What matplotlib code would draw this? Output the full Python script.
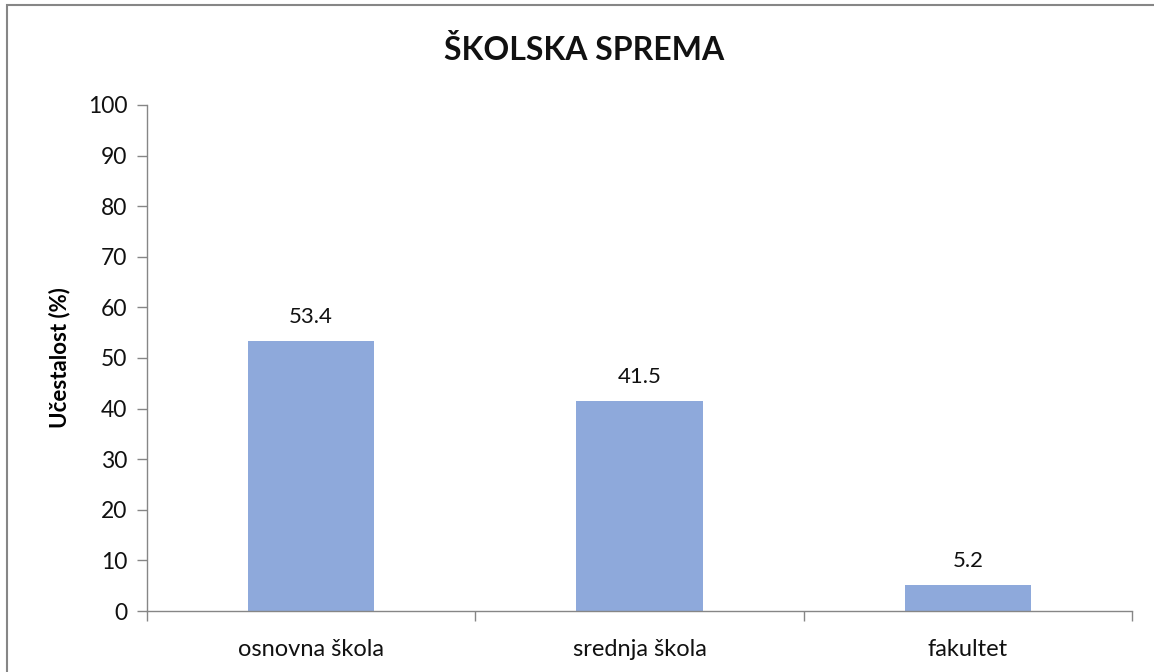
import matplotlib
matplotlib.use('Agg')
import matplotlib.pyplot as plt
from matplotlib.patches import Rectangle

categories = ['osnovna škola', 'srednja škola', 'fakultet']
values = [53.4, 41.5, 5.2]
yticks = list(range(0, 101, 10))

plt.rcParams['font.family'] = ['Lato', 'DejaVu Sans']

W, H = 1154, 672
fig = plt.figure(figsize=(W / 100, H / 100), dpi=100)
ax = fig.add_axes([147 / W, 1 - 611 / H, (1132 - 147) / W, (611 - 105) / H])

x = list(range(len(categories)))
ax.bar(x, values, width=0.385, color='#8EA9DB', zorder=2)
for xi, v in zip(x, values):
    ax.text(xi, v + 2.8, f'{v:.1f}', ha='center', va='bottom', fontsize=16, color='#111111')

ax.set_xlim(-0.5, len(categories) - 0.5)
ax.set_ylim(0, 100)
ax.set_yticks(yticks)
ax.set_xticks(x)
ax.set_xticklabels(categories, fontsize=17, color='#111111')
ax.set_xticks([i - 0.5 for i in range(len(categories) + 1)], minor=True)
ax.tick_params(axis='x', which='major', length=0, pad=20)
ax.tick_params(axis='x', which='minor', length=7, color='#868686', width=1)
ax.tick_params(axis='y', length=7, color='#868686', width=1, labelsize=16.5,
               labelcolor='#111111', pad=7)

for side in ['top', 'right']:
    ax.spines[side].set_visible(False)
for side in ['left', 'bottom']:
    ax.spines[side].set_color('#868686')
    ax.spines[side].set_linewidth(1)

ax.set_ylabel('Učestalost (%)', fontsize=16, fontweight='bold', labelpad=13)
fig.text(584 / W, 1 - 50 / H, 'ŠKOLSKA SPREMA', ha='center', va='center',
         fontsize=23, fontweight='bold', color='#111111')

fig.patches.append(Rectangle((7 / W, -0.05), 1, 1.05 - 5 / H, transform=fig.transFigure,
                             fill=False, edgecolor='#868686', linewidth=1.5))

fig.savefig('out.png', dpi=100)
